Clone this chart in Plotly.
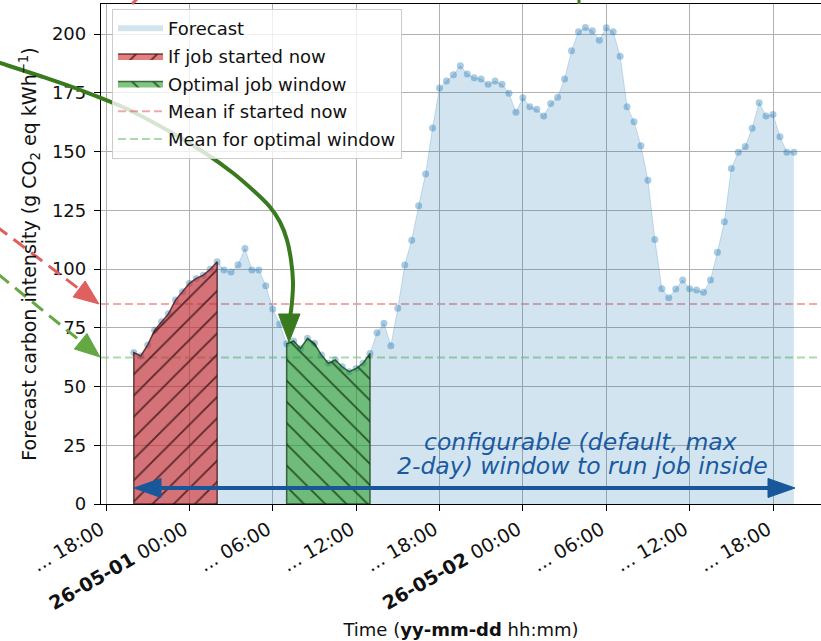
import pandas as pd
import plotly.graph_objects as go

# ---------------- data ----------------
start_time = "2026-04-30 20:00"
n_points = 96
forecast = [
    64.5, 63.0, 67.7, 74.0, 77.6, 81.0, 86.8, 90.3, 93.9, 96.0, 97.4, 99.9, 103.1,
    99.6, 98.7, 101.8, 108.7, 99.6, 99.6, 92.9, 83.0, 76.6,
    68.2, 69.4, 66.2, 70.5, 68.4, 63.4, 59.9, 61.3, 58.4, 56.3, 57.7, 59.9, 64.1,
    72.9, 76.9, 67.4, 83.3, 101.7, 112.3, 126.9, 140.5, 160.0, 177.0, 180.0, 182.7,
    186.5, 183.0, 181.4, 180.9, 178.6, 180.0, 178.6, 174.8, 166.7, 172.9, 169.1,
    168.0, 165.1, 170.5, 173.1, 180.9, 192.9, 201.0, 202.8, 201.4, 197.4, 202.7,
    201.0, 190.6, 169.1, 162.7, 152.5, 137.8, 112.6, 91.6, 87.8, 91.5, 95.3, 91.6,
    91.1, 90.1, 95.3, 107.1, 120.1, 142.8, 149.7, 152.1, 159.9, 170.8, 165.1,
    165.8, 156.3, 149.7, 149.7,
]
now_window = (0, 12)        # index range (inclusive) of "if job started now"
optimal_window = (22, 34)   # index range (inclusive) of optimal window
mean_now = 85.1
mean_optimal = 62.4

tick_times = ["2026-04-30 18:00", "2026-05-01 00:00", "2026-05-01 06:00",
              "2026-05-01 12:00", "2026-05-01 18:00", "2026-05-02 00:00",
              "2026-05-02 06:00", "2026-05-02 12:00", "2026-05-02 18:00"]
tick_labels = ["... 18:00", "<b>26-05-01</b> 00:00", "... 06:00", "... 12:00",
               "... 18:00", "<b>26-05-02</b> 00:00", "... 06:00", "... 12:00",
               "... 18:00"]
y_ticks = [0, 25, 50, 75, 100, 125, 150, 175, 200]

times = pd.date_range(start_time, periods=n_points, freq="30min")

FONT = "DejaVu Sans"
# plot area in pixels
L, R, T, B = 101, 821, 4, 504
W, H = 821, 641


def px(x):
    return (x - L) / (R - L)


def py(y):
    return (B - y) / (B - T)


def P(x, y):
    return f"{px(x):.5f},{py(y):.5f}"


def window_polygon(a, b):
    xs = [times[a]] + list(times[a:b + 1]) + [times[b], times[a]]
    ys = [0] + forecast[a:b + 1] + [0, 0]
    return xs, ys


fig = go.Figure()

# forecast fill
fig.add_trace(go.Scatter(
    x=times, y=forecast, mode="none", fill="tozeroy",
    fillcolor="rgba(31,119,180,0.2)", name="Forecast", legendgroup="a"))
# forecast line + markers
fig.add_trace(go.Scatter(
    x=times, y=forecast, mode="lines+markers",
    line=dict(color="rgba(31,119,180,0.22)", width=1),
    marker=dict(color="rgba(31,119,180,0.38)", size=7),
    showlegend=False, hoverinfo="skip"))

# job windows
xs, ys = window_polygon(*now_window)
fig.add_trace(go.Scatter(
    x=xs, y=ys, mode="lines", fill="toself",
    fillcolor="rgba(214,39,40,0.6)",
    fillpattern=dict(shape="/", size=15, solidity=0.12, fgcolor="#3a1414",
                     fgopacity=0.8, bgcolor="rgba(214,39,40,0.6)"),
    line=dict(color="rgba(60,20,20,0.75)", width=1.5),
    name="If job started now", legendgroup="b"))
xs, ys = window_polygon(*optimal_window)
fig.add_trace(go.Scatter(
    x=xs, y=ys, mode="lines", fill="toself",
    fillcolor="rgba(44,160,44,0.6)",
    fillpattern=dict(shape="\\", size=15, solidity=0.12, fgcolor="#143a14",
                     fgopacity=0.8, bgcolor="rgba(44,160,44,0.6)"),
    line=dict(color="rgba(20,60,20,0.75)", width=1.5),
    name="Optimal job window", legendgroup="c"))

# mean lines (legend entries only, lines drawn as shapes)
fig.add_trace(go.Scatter(x=[None], y=[None], mode="lines",
                         line=dict(color="rgba(214,39,40,0.4)", width=2, dash="8px,4px"),
                         name="Mean if started now", legendgroup="d"))
fig.add_trace(go.Scatter(x=[None], y=[None], mode="lines",
                         line=dict(color="rgba(44,160,44,0.4)", width=2, dash="8px,4px"),
                         name="Mean for optimal window", legendgroup="e"))

fig.add_hline(y=mean_now, line=dict(color="rgba(214,39,40,0.4)", width=2, dash="8px,4px"),
              layer="below")
fig.add_hline(y=mean_optimal, line=dict(color="rgba(44,160,44,0.4)", width=2, dash="8px,4px"),
              layer="below")

shapes = []
# blue double arrow
BLUE = "#17579a"
ay = 488
ax0, ax1 = 134, 795
hl, hw = 27, 9.5
shapes.append(dict(type="line", xref="paper", yref="paper",
                   x0=px(ax0 + hl - 2), x1=px(ax1 - hl + 2), y0=py(ay), y1=py(ay),
                   line=dict(color=BLUE, width=4)))
shapes.append(dict(type="path", xref="paper", yref="paper",
                   path=f"M{P(ax0, ay)} L{P(ax0 + hl, ay - hw)} L{P(ax0 + hl, ay + hw)} Z",
                   fillcolor=BLUE, line=dict(color=BLUE, width=1)))
shapes.append(dict(type="path", xref="paper", yref="paper",
                   path=f"M{P(ax1, ay)} L{P(ax1 - hl, ay - hw)} L{P(ax1 - hl, ay + hw)} Z",
                   fillcolor=BLUE, line=dict(color=BLUE, width=1)))


def dashed_arrow(start, tip, color, hlen=25, hhalf=10):
    dx, dy = tip[0] - start[0], tip[1] - start[1]
    n = (dx * dx + dy * dy) ** 0.5
    ux, uy = dx / n, dy / n
    bx, by = tip[0] - hlen * ux, tip[1] - hlen * uy
    qx, qy = -uy, ux
    c1 = (bx + hhalf * qx, by + hhalf * qy)
    c2 = (bx - hhalf * qx, by - hhalf * qy)
    return [
        dict(type="line", xref="paper", yref="paper",
             x0=px(start[0]), y0=py(start[1]), x1=px(bx), y1=py(by),
             line=dict(color=color, width=3, dash="14px,8px")),
        dict(type="path", xref="paper", yref="paper",
             path=f"M{P(*tip)} L{P(*c1)} L{P(*c2)} Z",
             fillcolor=color, line=dict(color=color, width=1)),
    ]


shapes += dashed_arrow((-4, 226), (99, 304), "#e05f5f")
shapes += dashed_arrow((-2, 274), (100, 357), "#63a843")

# curved green arrow
GREEN = "#3a7a1e"
pts = [(-6, 61), (0, 63), (40, 76), (83, 91), (125, 108), (167, 130), (205, 153),
       (233, 173), (255, 192), (270, 207), (280, 222), (287, 240), (291, 260),
       (293, 282), (292, 302), (290, 318)]
d = f"M{P(*pts[0])}"
for i in range(len(pts) - 1):
    p0 = pts[i - 1] if i > 0 else pts[i]
    p1, p2 = pts[i], pts[i + 1]
    p3 = pts[i + 2] if i + 2 < len(pts) else pts[i + 1]
    c1 = (p1[0] + (p2[0] - p0[0]) / 6, p1[1] + (p2[1] - p0[1]) / 6)
    c2 = (p2[0] - (p3[0] - p1[0]) / 6, p2[1] - (p3[1] - p1[1]) / 6)
    d += f" C{P(*c1)} {P(*c2)} {P(*p2)}"
shapes.append(dict(type="path", xref="paper", yref="paper", path=d,
                   line=dict(color=GREEN, width=4), fillcolor="rgba(0,0,0,0)"))
shapes.append(dict(type="path", xref="paper", yref="paper",
                   path=f"M{P(289, 342)} L{P(278.5, 314)} L{P(300, 314)} Z",
                   fillcolor=GREEN, line=dict(color=GREEN, width=1)))

# tails of arrows entering from above the visible area
shapes.append(dict(type="line", xref="paper", yref="paper",
                   x0=px(132), y0=py(4), x1=px(137), y1=py(-1),
                   line=dict(color="#e05f5f", width=3)))
shapes.append(dict(type="line", xref="paper", yref="paper",
                   x0=px(579), y0=py(4), x1=px(579), y1=py(-1),
                   line=dict(color=GREEN, width=3)))

for s in shapes:
    fig.add_shape(**s)

note_lines = ["configurable (default, max", "2-day) window to run job inside"]
for text, (cx, cy) in zip(note_lines, [(581, 442), (582.5, 466)]):
    fig.add_annotation(
        xref="paper", yref="paper", x=px(cx), y=py(cy),
        text=f"<i>{text}</i>", showarrow=False, xanchor="center", yanchor="middle",
        font=dict(family=FONT, size=23.5, color="#1a5aa0"))

fig.update_layout(
    width=W, height=H,
    margin=dict(l=L, r=W - R, t=T, b=H - B, autoexpand=False),
    plot_bgcolor="white", paper_bgcolor="white",
    font=dict(family=FONT, size=18, color="black"),
    showlegend=True,
    legend=dict(x=px(112), y=py(9), xanchor="left", yanchor="top",
                bgcolor="rgba(255,255,255,0.8)", bordercolor="#cccccc", borderwidth=1,
                font=dict(family=FONT, size=18, color="#111"),
                itemwidth=45, tracegroupgap=1.3, traceorder="grouped"),
)
fig.update_xaxes(
    type="date", range=["2026-04-30 17:38:24", "2026-05-02 21:27:15"],
    tickmode="array", tickvals=tick_times, ticktext=tick_labels, tickangle=-30,
    ticks="outside", ticklen=6, tickwidth=1.3, tickcolor="black", ticklabelshift=-5,
    showline=True, linecolor="black", linewidth=1.3, mirror=True,
    showgrid=True, gridcolor="#b0b0b0", gridwidth=1, zeroline=False,
    tickfont=dict(family=FONT, size=19, color="#111"),
    title=dict(text="Time (<b>yy-mm-dd</b> hh:mm)", standoff=10,
               font=dict(family=FONT, size=18, color="#111")),
)
fig.update_yaxes(
    range=[0, 212.8], tickmode="array", tickvals=y_ticks,
    ticks="outside", ticklen=6, tickwidth=1.3, tickcolor="black",
    showline=True, linecolor="black", linewidth=1.3, ticklabelstandoff=4,
    showgrid=True, gridcolor="#b0b0b0", gridwidth=1, zeroline=False,
    tickfont=dict(family=FONT, size=18, color="#111"),
    title=dict(text="Forecast carbon intensity (g CO<sub>2</sub> eq kWh<sup>\u22121</sup>)",
               standoff=10, font=dict(family=FONT, size=19, color="#111")),
)

fig.write_html("out.html", config={"displayModeBar": False},
               post_script="document.body.style.margin='0';document.body.style.overflow='hidden';")
